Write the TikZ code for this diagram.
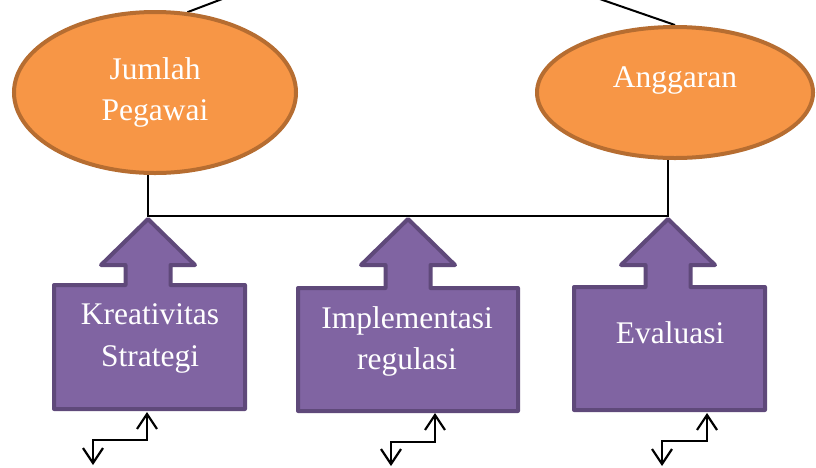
\documentclass[tikz,border=0pt]{standalone}
\usepackage{fontspec}
\setmainfont{Liberation Serif}
\usetikzlibrary{shapes.geometric,arrows.meta,calc,backgrounds}

\definecolor{factorfill}{HTML}{F79646}
\definecolor{factorline}{HTML}{B66D31}
\definecolor{stepfill}{HTML}{8064A2}
\definecolor{stepline}{HTML}{5F497A}

% Purple box with an upward block arrow on top.
% #1 name of the arrow tip, #2 tip x, #3 left, #4 right, #5 top, #6 bottom
\newcommand\upcallout[6]{%
  \draw[stepshape] (#3,#6) -- (#3,#5) -- (#2-22.5,#5) -- (#2-22.5,265)
    -- (#2-47,265) -- (#2,219) -- (#2+47,265) -- (#2+22.5,265)
    -- (#2+22.5,#5) -- (#4,#5) -- (#4,#6) -- cycle;
  \coordinate (#1) at (#2,216);
}

\tikzset{
  factor/.style={ellipse, draw=factorline, fill=factorfill, line width=4pt,
    text=white, align=center, inner sep=0pt,
    font=\fontsize{31.5}{41.5}\selectfont},
  stepshape/.style={draw=stepline, fill=stepfill, line width=4pt, line join=round},
  steplabel/.style={text=white, align=center, inner sep=0pt,
    font=\fontsize{31.5}{41.5}\selectfont},
  link/.style={black, line width=2pt},
  twoway/.style={black, line width=2.2pt,
    {Straight Barb[length=15pt,width=20pt]}-{Straight Barb[length=15pt,width=20pt]}},
}

\begin{document}
\begin{tikzpicture}[x=1pt, y=-1pt]
\useasboundingbox (0,0) rectangle (816,467);

% lines leading up out of the frame
\coordinate (above1) at (246,-10);
\coordinate (above2) at (539,-22);

% factors
\node[factor, minimum width=282pt, minimum height=161pt] (jp) at (155,92.5)
  {Jumlah\\Pegawai};
\node[factor, minimum width=276pt, minimum height=131pt, text depth=30pt] (ang)
  at (675,92.5) {Anggaran};

% steps
\upcallout{t1}{148}{54}{245}{285}{409}
\upcallout{t2}{408}{298}{518}{288}{411}
\upcallout{t3}{668}{574}{765}{287}{410}

\node[steplabel] (kre) at (150,338.5) {Kreativitas\\Strategi};
\node[steplabel] (imp) at (407,341.5) {Implementasi\\regulasi};
\node[steplabel] (eva) at (670,333) {Evaluasi};

% connectors, kept behind the shapes
\begin{scope}[on background layer]
  \draw[link] (above1) -- (jp.68);
  \draw[link] (above2) -- (ang.north);
  \draw[link] (jp.south -| t1) -- (t1) -- (t2) -- (t3) -- (t3 |- ang.south);
\end{scope}

% two-way arrows below each step
\coordinate (z1a) at (147,412); \coordinate (z1b) at (93,465);
\coordinate (z2a) at (435,413); \coordinate (z2b) at (391,466);
\coordinate (z3a) at (707,413); \coordinate (z3b) at (662,466);
\draw[twoway] (z1a) -- ++(0,28) -| (z1b);
\draw[twoway] (z2a) -- ++(0,29) -| (z2b);
\draw[twoway] (z3a) -- ++(0,28) -| (z3b);
\end{tikzpicture}
\end{document}
